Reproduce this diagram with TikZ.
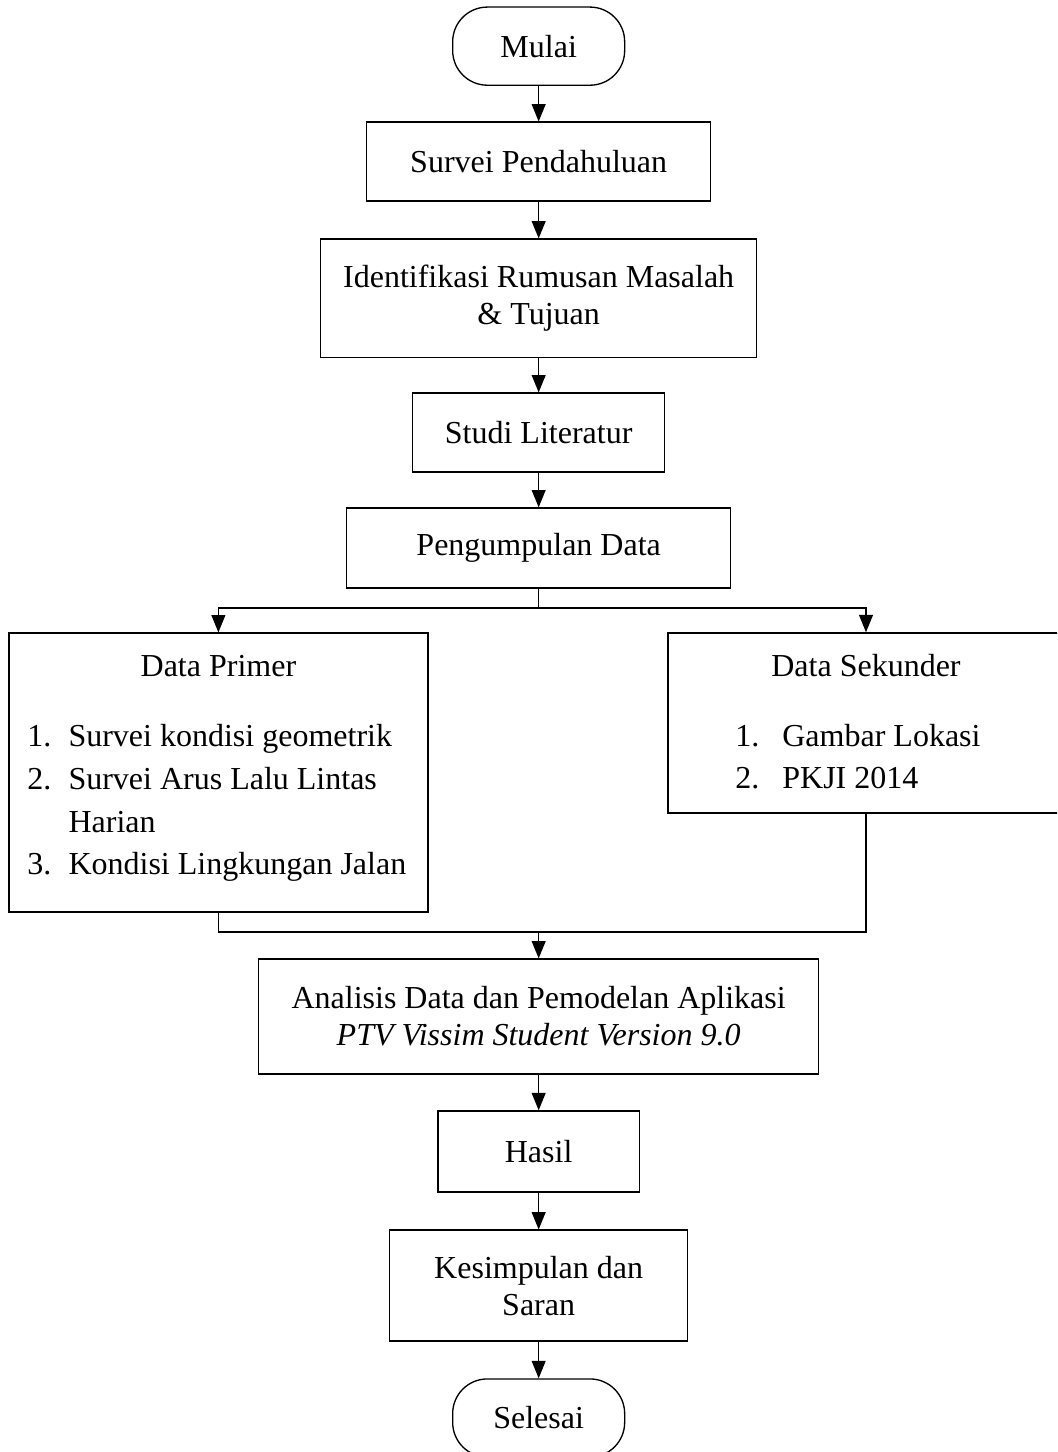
\documentclass[tikz,border=0pt]{standalone}
\usepackage{fontspec}
\setmainfont{Liberation Serif}
\usetikzlibrary{arrows.meta}

\tikzset{
  terminal/.style={draw, line width=0.5pt, rounded corners=13pt, minimum width=64.5pt, minimum height=29.3pt},
  process/.style={draw, line width=0.5pt, align=center, font=\fontsize{12}{13.9}\selectfont},
  flow/.style={-{Triangle[length=6.5pt,width=5.2pt]}, line width=0.45pt},
  listline/.style={anchor=base west, inner sep=0pt},
}

\begin{document}
\begin{tikzpicture}[x=1pt, y=1pt, font=\fontsize{12}{14}\selectfont]
		\clip (0,0) rectangle (396.4,-544.5);

		% alur utama
		\node[terminal] (mulai) at (202,-17.3) {Mulai};
		\node[process, minimum width=129pt, minimum height=29.6pt] (survei) at (202,-60.6) {Survei Pendahuluan};
		\node[process, minimum width=163.5pt, minimum height=44.3pt] (identifikasi) at (202,-111.8) {Identifikasi Rumusan Masalah\\ \& Tujuan};
		\node[process, minimum width=94.5pt, minimum height=29.6pt] (studi) at (202,-162.2) {Studi Literatur};
		\node[process, minimum width=144pt, minimum height=30pt] (pengumpulan) at (202,-205.5) {Pengumpulan Data};

		% data primer
		\node[process, minimum width=157.1pt, minimum height=104.6pt] (primer) at (81.9,-289.7) {};
		\node[anchor=base, inner sep=0pt] (primerjudul) at (81.9,-253.5) {Data Primer};
		\node[listline] (primer1) at (10.1,-280.1) {\makebox[15.4pt][l]{1.}Survei kondisi geometrik};
		\node[listline] (primer2) at (10.1,-296.2) {\makebox[15.4pt][l]{2.}Survei Arus Lalu Lintas};
		\node[listline] (primer2b) at (10.1,-312.1) {\hspace*{15.4pt}Harian};
		\node[listline] (primer3) at (10.1,-328.1) {\makebox[15.4pt][l]{3.}Kondisi Lingkungan Jalan};

		% data sekunder
		\node[process, minimum width=148.5pt, minimum height=67.5pt] (sekunder) at (324.75,-271.1) {};
		\node[anchor=base, inner sep=0pt] (sekunderjudul) at (324.75,-253.5) {Data Sekunder};
		\node[listline] (sekunder1) at (275.6,-280.1) {\makebox[17.6pt][l]{1.}Gambar Lokasi};
		\node[listline] (sekunder2) at (275.6,-295.6) {\makebox[17.6pt][l]{2.}PKJI 2014};

		\node[process, minimum width=210pt, minimum height=43.1pt] (analisis) at (202,-381.2) {Analisis Data dan Pemodelan Aplikasi\\ \textit{PTV Vissim Student Version 9.0}};
		\node[process, minimum width=75.4pt, minimum height=30.4pt] (hasil) at (202,-431.8) {Hasil};
		\node[process, minimum width=111.8pt, minimum height=41.6pt] (kesimpulan) at (202,-482.1) {Kesimpulan dan\\ Saran};
		\node[terminal] (selesai) at (202,-531.75) {Selesai};

		\coordinate (cabang) at (202,-228);
		\coordinate (gabung) at (202,-349.5);

		% panah
		\draw[flow] (mulai) -- (survei);
		\draw[flow] (survei) -- (identifikasi);
		\draw[flow] (identifikasi) -- (studi);
		\draw[flow] (studi) -- (pengumpulan);
		\draw[line width=0.45pt] (pengumpulan) -- (cabang);
		\draw[flow] (cabang) -| (primer);
		\draw[flow] (cabang) -| (sekunder);
		\draw[line width=0.45pt] (primer) |- (gabung);
		\draw[line width=0.45pt] (sekunder) |- (gabung);
		\draw[flow] (gabung) -- (analisis);
		\draw[flow] (analisis) -- (hasil);
		\draw[flow] (hasil) -- (kesimpulan);
		\draw[flow] (kesimpulan) -- (selesai);
	\end{tikzpicture}
\end{document}
